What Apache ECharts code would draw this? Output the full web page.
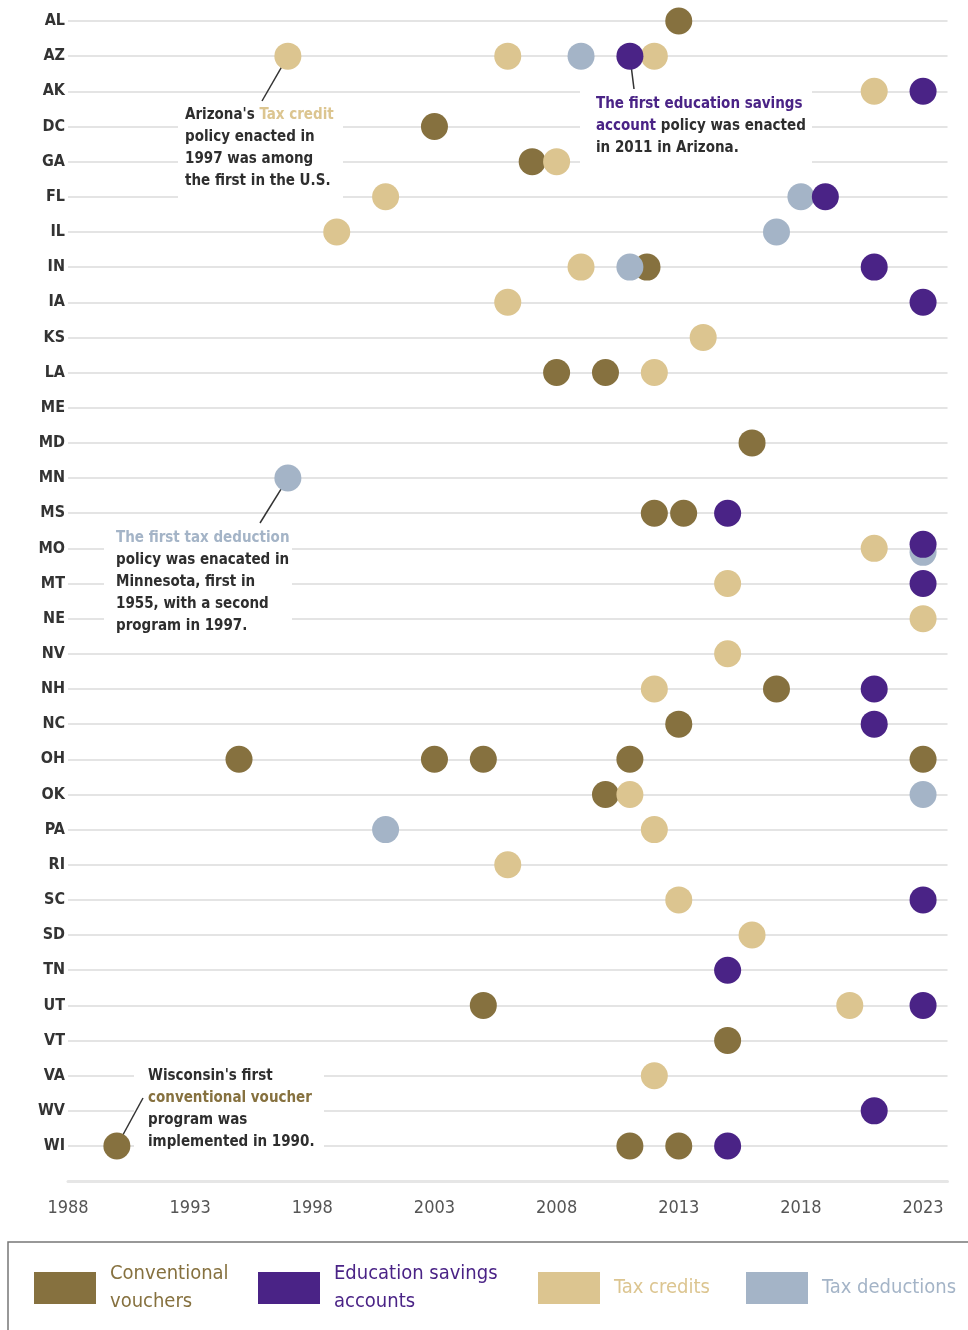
<!DOCTYPE html>
<html>
<head>
<meta charset="utf-8">
<script src="https://cdn.jsdelivr.net/npm/echarts@6/dist/echarts.min.js"></script>
<style>html,body{margin:0;padding:0;background:#fff;}#chart{width:968px;height:1330px;}</style>
</head>
<body>
<div id="chart"></div>
<script>
const states = ['AL','AZ','AK','DC','GA','FL','IL','IN','IA','KS','LA','ME','MD','MN','MS','MO','MT','NE','NV','NH','NC','OH','OK','PA','RI','SC','SD','TN','UT','VT','VA','WV','WI'];
const tickYears = [1988,1993,1998,2003,2008,2013,2018,2023];

const vouchers = [['AL',2013],['DC',2003],['GA',2007],['IN',2011.7],['LA',2008],['LA',2010],['MD',2016],['MS',2012],['MS',2013.2],['NH',2017],['NC',2013],['OH',1995],['OH',2003],['OH',2005],['OH',2011],['OH',2023],['OK',2010],['UT',2005],['VT',2015],['WI',1990],['WI',2011],['WI',2013]];
const taxCredits = [['AZ',1997],['AZ',2006],['AZ',2012],['AK',2021],['GA',2008],['FL',2001],['IL',1999],['IN',2009],['IA',2006],['KS',2014],['LA',2012],['MO',2021],['MT',2015],['NE',2023],['NV',2015],['NH',2012],['OK',2011],['PA',2012],['RI',2006],['SC',2013],['SD',2016],['UT',2020],['VA',2012]];
const taxDeductions = [['AZ',2009],['FL',2018],['IL',2017],['IN',2011],['MN',1997],['MO',2023],['OK',2023],['PA',2001]];
const esa = [['AZ',2011],['AK',2023],['FL',2019],['IN',2021],['IA',2023],['MS',2015],['MO',2023],['MT',2023],['NH',2021],['NC',2021],['SC',2023],['TN',2015],['UT',2023],['WV',2021],['WI',2015]];

const C_V = '#86713f', C_E = '#4a2386', C_C = '#dcc590', C_D = '#a4b4c7';
const FONT = '"DejaVu Sans Condensed", "Liberation Sans Narrow", sans-serif';

function pts(arr, nudge) {
  return arr.map(([s, y]) => {
    const item = { value: [y, s] };
    if (s === 'MO' && nudge) item.symbolOffset = [0, nudge];
    return item;
  });
}

const chart = echarts.init(document.getElementById('chart'), null, { renderer: 'canvas' });

function legendItem(name, left, top, color) {
  return {
    data: [{ name: name }],
    left: left, top: top, orient: 'horizontal', padding: 0,
    icon: 'rect', itemWidth: 62, itemHeight: 32, selectedMode: false,
    formatter: n => n === 'Conventional vouchers' ? 'Conventional\nvouchers' : (n === 'Education savings accounts' ? 'Education savings\naccounts' : n),
    textStyle: { color: color, fontSize: 20, lineHeight: 28, fontFamily: FONT, padding: [0, 0, 0, 9] }
  };
}

const sym = 27;
const option = {
  animation: false,
  textStyle: { fontFamily: FONT },
  grid: { left: 68, right: 20.5, top: 21, bottom: 184, containLabel: false },
  xAxis: {
    type: 'value', min: 1988, max: 2024,
    offset: 35,
    axisLine: { show: true, lineStyle: { color: '#e6e6e6', width: 3 } },
    axisTick: { show: false },
    splitLine: { show: false },
    axisLabel: { customValues: tickYears, formatter: v => String(v), color: '#555', fontSize: 18, margin: 18, fontFamily: FONT }
  },
  yAxis: {
    type: 'category', data: states, inverse: true, boundaryGap: false,
    axisLine: { show: false }, axisTick: { show: false },
    splitLine: { show: true, lineStyle: { color: '#e4e4e4', width: 2 } },
    axisLabel: { color: '#333', fontSize: 16, fontWeight: 'bold', margin: 3, fontFamily: FONT }
  },
  legend: [
    legendItem('Conventional vouchers', 34, 1260, C_V),
    legendItem('Education savings accounts', 258, 1260, C_E),
    legendItem('Tax credits', 538, 1272, C_C),
    legendItem('Tax deductions', 746, 1272, C_D)
  ],
  series: [
    { name: 'Conventional vouchers', type: 'scatter', symbolSize: sym, itemStyle: { color: C_V, opacity: 1 }, data: pts(vouchers), z: 2 },
    { name: 'Tax credits', type: 'scatter', symbolSize: sym, itemStyle: { color: C_C, opacity: 1 }, data: pts(taxCredits), z: 3 },
    { name: 'Tax deductions', type: 'scatter', symbolSize: sym, itemStyle: { color: C_D, opacity: 1 }, data: pts(taxDeductions, 4), z: 4 },
    { name: 'Education savings accounts', type: 'scatter', symbolSize: sym, itemStyle: { color: C_E, opacity: 1 }, data: pts(esa, -4), z: 5 }
  ]
};
chart.setOption(option);

// annotations
const P = (y, s) => chart.convertToPixel({ gridIndex: 0 }, [y, s]);
const dark = '#2e2e2e';
const txtBase = { font: 'bold 15px ' + FONT, fill: dark, lineHeight: 22 };
function rich(c) { return { c: { fill: c, font: 'bold 15px ' + FONT, lineHeight: 22 } }; }

const azC = P(1997, 'AZ'), azE = P(2011, 'AZ'), mn = P(1997, 'MN'), wi = P(1990, 'WI');
chart.setOption({
  graphic: [
    { type: 'rect', z: 1, shape: { x: 178, y: 102, width: 165, height: 103 }, style: { fill: '#fff' } },
    { type: 'rect', z: 1, shape: { x: 580, y: 82, width: 232, height: 90 }, style: { fill: '#fff' } },
    { type: 'rect', z: 1, shape: { x: 104, y: 526, width: 188, height: 112 }, style: { fill: '#fff' } },
    { type: 'rect', z: 1, shape: { x: 134, y: 1062, width: 190, height: 96 }, style: { fill: '#fff' } },
    { type: 'line', z: 1, shape: { x1: azC[0], y1: azC[1], x2: 262, y2: 101 }, style: { stroke: '#333', lineWidth: 1.5 } },
    { type: 'line', z: 1, shape: { x1: azE[0], y1: azE[1], x2: 634, y2: 89 }, style: { stroke: '#333', lineWidth: 1.5 } },
    { type: 'line', z: 1, shape: { x1: mn[0], y1: mn[1], x2: 260, y2: 523 }, style: { stroke: '#333', lineWidth: 1.5 } },
    { type: 'line', z: 1, shape: { x1: wi[0], y1: wi[1], x2: 143, y2: 1098 }, style: { stroke: '#333', lineWidth: 1.5 } },
    { type: 'text', z: 6, left: 185, top: 104, style: Object.assign({}, txtBase, { text: "Arizona's {c|Tax credit}\npolicy enacted in\n1997 was among\nthe first in the U.S.", rich: rich(C_C) }) },
    { type: 'text', z: 6, left: 596, top: 93, style: Object.assign({}, txtBase, { text: "{c|The first education savings}\n{c|account} policy was enacted\nin 2011 in Arizona.", rich: rich(C_E) }) },
    { type: 'text', z: 6, left: 116, top: 527, style: Object.assign({}, txtBase, { text: "{c|The first tax deduction}\npolicy was enacated in\nMinnesota, first in\n1955, with a second\nprogram in 1997.", rich: rich(C_D) }) },
    { type: 'text', z: 6, left: 148, top: 1065, style: Object.assign({}, txtBase, { text: "Wisconsin's first\n{c|conventional voucher}\nprogram was\nimplemented in 1990.", rich: rich(C_V) }) },
    { type: 'rect', z: 0, shape: { x: 8, y: 1242, width: 970, height: 100 }, style: { fill: 'none', stroke: '#777', lineWidth: 1.5 } }
  ]
});
</script>
</body>
</html>
